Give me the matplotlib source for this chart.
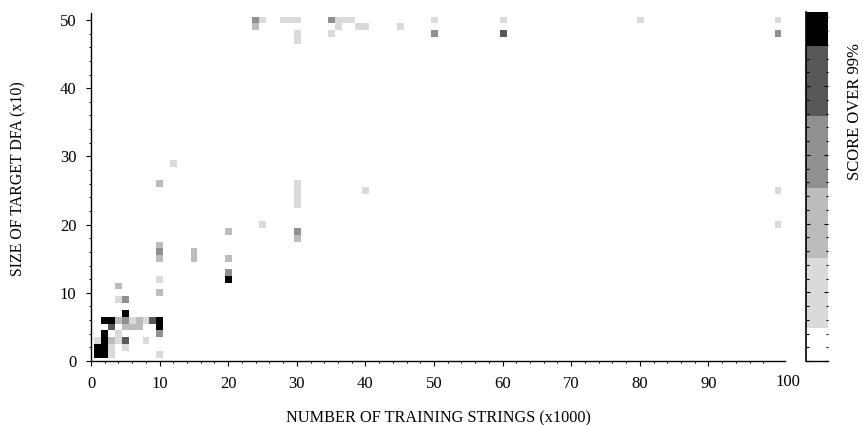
import matplotlib
matplotlib.use("Agg")
import matplotlib.pyplot as plt
from matplotlib.colors import ListedColormap
from matplotlib.ticker import MultipleLocator, FixedLocator
import numpy as np

plt.rcParams['font.family'] = ['Liberation Serif', 'DejaVu Serif']

X_LABEL = "NUMBER OF TRAINING STRINGS (x1000)"
Y_LABEL = "SIZE OF TARGET DFA (x10)"
CBAR_LABEL = "SCORE OVER 99%"
X_TICKS = [0, 10, 20, 30, 40, 50, 60, 70, 80, 90]
X_END_LABEL = "100"

# level: 1 lightest ... 5 black
black = [(1,1),(2,1),(1,2),(2,2),(2,3),(2,4),(2,6),(3,6),(5,7),(10,5),(10,6),(20,12)]
dark = [(3,5),(5,3),(60,48),(9,6)]
mid = [(5,9),(20,13),(30,19),(10,16),(24,50),(35,50),(50,48),(100,48),(5,6),(10,4)]
soft = [(3,3),(4,6),(7,6),(4,11),(5,5),(6,5),(7,5),(24,49),(30,18),(20,15),(20,19),
        (10,26),(15,15),(15,16),(10,15),(10,17),(10,10)]
light = [(3,1),(3,2),(1,3),(4,3),(4,4),(5,2),(8,3),(10,1),(6,6),(8,6),(4,9),(10,12),
         (12,29),(25,20),(30,23),(30,24),(30,25),(30,26),(40,25),(100,25),(100,20),(100,50),
         (25,50),(28,50),(29,50),(30,50),(30,47),(30,48),(36,50),(37,50),(38,50),(36,49),
         (39,49),(40,49),(35,48),(45,49),(50,50),(60,50),(80,50)]
levels = [light, soft, mid, dark, black]
shades = ['#ffffff', '#dadada', '#bcbcbc', '#909090', '#585858', '#000000']
cbar_bounds = [0, 2.4, 7.5, 12.6, 17.8, 22.9, 25.4]

W, H = 863, 425
fig = plt.figure(figsize=(W/100, H/100), dpi=100)
ax = fig.add_axes([91/W, 1-361/H, (785-91)/W, (361-13)/H])
grid = np.zeros((52, 102))
for i, cells in enumerate(levels, 1):
    for x, y in cells:
        grid[y, x] = i
cmap = ListedColormap(shades)
ax.imshow(grid, origin='lower', cmap=cmap, vmin=0, vmax=5, aspect='auto',
          extent=(-0.5, 101.5, -0.5, 51.5), interpolation='nearest')
ax.set_xlim(0, 694/6.86)
ax.set_ylim(0, 348/6.82)
for s in ('top', 'right'):
    ax.spines[s].set_visible(False)
for s in ('left', 'bottom'):
    ax.spines[s].set_linewidth(1.0)
ax.xaxis.set_major_locator(FixedLocator(X_TICKS))
ax.xaxis.set_minor_locator(FixedLocator(np.arange(0, 100, 2)))
ax.yaxis.set_major_locator(MultipleLocator(10))
ax.yaxis.set_minor_locator(MultipleLocator(2))
ax.tick_params(which='major', length=3.5, width=0.8, labelsize=12, pad=7)
ax.tick_params(which='minor', length=1.5, width=0.7)
ax.text(697/694, -21/348, X_END_LABEL, transform=ax.transAxes, ha='center', va='center', fontsize=12)
fig.text(438/W, 1-418/H, X_LABEL, ha='center', va='center', fontsize=11.7)
fig.text(18/W, 1-179/H, Y_LABEL, rotation=90, ha='center', va='center', fontsize=11.4)

cax = fig.add_axes([806/W, 1-361/H, 22/W, 349/H])
cax.pcolormesh([0, 1], cbar_bounds, np.arange(6).reshape(-1, 1), cmap=cmap,
               vmin=0, vmax=5, shading='flat')
cax.set_xlim(0, 1)
cax.set_ylim(cbar_bounds[0], cbar_bounds[-1])
cax.set_xticks([])
cax.spines['top'].set_visible(False)
cax.spines['right'].set_visible(False)
cax.spines['left'].set_linewidth(1.2)
cax.spines['bottom'].set_linewidth(1.0)
cax.yaxis.set_major_locator(MultipleLocator(5))
cax.yaxis.set_minor_locator(MultipleLocator(1))
cax.tick_params(axis='y', which='both', direction='in', left=True, right=True, labelleft=False)
cax.tick_params(axis='y', which='major', length=3, width=0.8)
cax.tick_params(axis='y', which='minor', length=1.8, width=0.8)
fig.text(855/W, 1-112/H, CBAR_LABEL, rotation=90, ha='center', va='center', fontsize=12)
fig.savefig('out.png', dpi=100)
